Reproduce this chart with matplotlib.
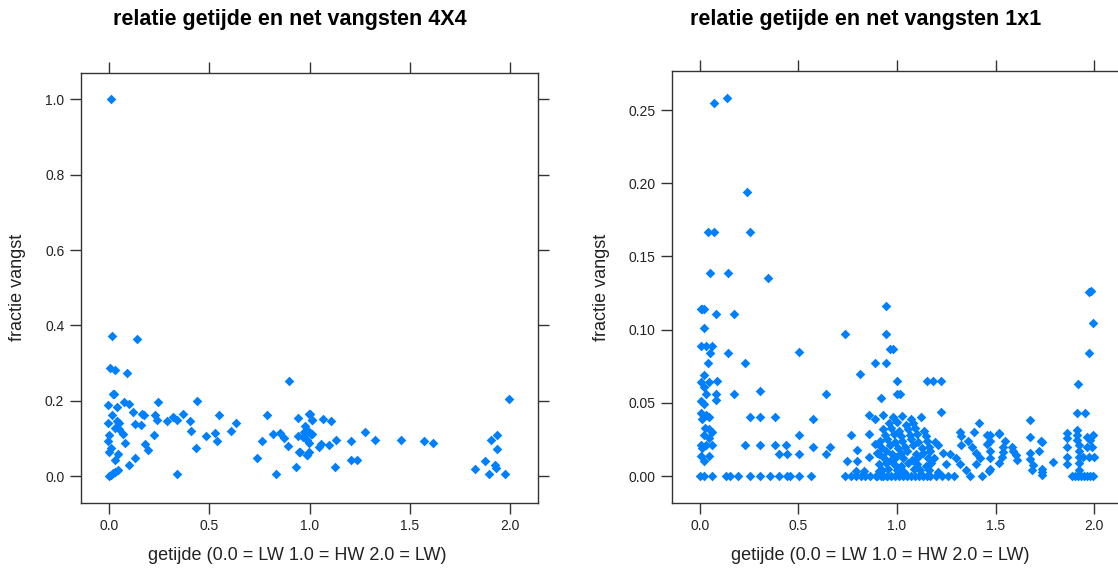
import matplotlib.pyplot as plt
from matplotlib.ticker import FormatStrFormatter

plt.rcParams['font.family'] = ['Liberation Sans', 'DejaVu Sans']

# getijde (x) en fractie vangst (y) per net, 4X4
x_4x4 = [0.01, 0.013, 0.141, 0.005, 0.028, 0.088, 0.896, 0.018, 0.026, -0.005, 0.038,
         0.075, 0.101, 0.118, 0.244, 0.437, 0.015, 0.165, 0.175, 0.231, 0.038, 0.048,
         -0.005, 0.131, 0.161, 0.238, 0.291, 0.318, 0.338, 0.368, 0.404, 0.55, 0.633,
         0.787, 0.943, 0.996, 1.012, 0.032, 0.051, 0.071, 0.002, 0.408, 0.224, 0.484,
         0.53, 0.61, 0.82, 0.853, 0.873, 0.943, 0.975, 0.99, 1.005, -0.005, 0.078,
         0.537, 0.763, 0.178, 0.893, 0.008, 0.195, 0.434, 0.946, 0.996, -0.002, 0.045,
         0.032, 0.131, 0.101, 0.74, 0.933, 0.986, 0.0, 0.01, 0.02, 0.03, 0.045, 0.338,
         0.833, 1.0, 1.012, 1.069, 1.106, 0.976, 0.986, 0.999, 1.012, 0.969, 0.986,
         0.999, 1.046, 1.056, 1.096, 1.132, 1.205, 1.275, 1.328, 1.455, 1.571, 1.618,
         0.953, 0.989, 1.205, 1.238, 1.129, 1.997, 1.904, 1.937, 1.937, 1.877, 1.827,
         1.927, 1.93, 1.897, 1.973]
y_4x4 = [1.0, 0.373, 0.364, 0.288, 0.281, 0.274, 0.253, 0.219, 0.219, 0.188, 0.184,
         0.196, 0.191, 0.171, 0.196, 0.2, 0.161, 0.166, 0.161, 0.161, 0.145, 0.141,
         0.141, 0.138, 0.136, 0.149, 0.145, 0.156, 0.15, 0.166, 0.147, 0.163, 0.141,
         0.163, 0.154, 0.166, 0.149, 0.129, 0.125, 0.113, 0.108, 0.12, 0.11, 0.106,
         0.115, 0.119, 0.111, 0.115, 0.101, 0.106, 0.118, 0.122, 0.112, 0.092, 0.088,
         0.094, 0.092, 0.085, 0.081, 0.074, 0.069, 0.074, 0.064, 0.064, 0.065, 0.058,
         0.042, 0.048, 0.03, 0.048, 0.023, 0.055, 0.0, 0.004, 0.008, 0.012, 0.017,
         0.005, 0.005, 0.166, 0.149, 0.152, 0.147, 0.134, 0.117, 0.117, 0.113, 0.104,
         0.095, 0.087, 0.078, 0.085, 0.083, 0.097, 0.094, 0.117, 0.097, 0.097, 0.092,
         0.088, 0.064, 0.055, 0.044, 0.044, 0.023, 0.205, 0.097, 0.11, 0.072, 0.039,
         0.018, 0.03, 0.021, 0.005, 0.005]

# getijde (x) en fractie vangst (y) per net, 1x1
x_1x1 = [
    # hoge vangsten
    0.073, 0.137, 0.239, 0.042, 0.073, 0.255, 0.049, 0.144, 0.344,
    # rond laagwater
    0.005, 0.012, 0.019, 0.08, 0.171, 0.019, 0.005, 0.032, 0.059, 0.049, 0.144,
    0.042, 0.228, 0.019, 0.005, 0.046, 0.086, 0.019, 0.032, 0.08, 0.171, 0.306,
    0.08, 0.005, 0.019, 0.005, 0.019, 0.032, 0.046, 0.012, 0.255, 0.306, 0.381,
    0.025, 0.046, 0.059, 0.019, 0.046, 0.005, 0.032, 0.059, 0.012, 0.228, 0.306,
    0.381, 0.438, 0.005, 0.046, 0.401, 0.442, 0.019,
    0.0, 0.019, 0.059, 0.134, 0.151, 0.194, 0.255, 0.306, 0.354, 0.401, 0.442,
    # opkomend water
    0.944, 0.738, 0.944, 0.964, 0.978, 0.504, 0.887, 0.944, 0.812, 0.64, 0.92,
    0.859, 0.887, 0.927, 0.575, 0.504, 0.765, 0.859, 0.575, 0.66, 0.89, 0.795,
    0.504, 0.64, 0.859, 0.91, 0.748, 0.795,
    0.457, 0.504, 0.565, 0.734, 0.765, 0.792, 0.816, 0.836, 0.863, 0.893, 0.92, 0.948,
    0.79, 0.83, 0.91,
    # rond hoogwater
    1.0, 1.151, 1.181, 1.222, 1.0, 1.015, 1.222,
    0.9, 0.93, 0.95, 0.97, 0.99, 1.01, 1.03, 1.05, 1.07, 1.09, 1.11, 1.13, 1.15,
    1.17, 1.2, 1.23, 1.26, 1.29,
    0.925, 0.955, 1.0, 1.035, 1.085, 1.115, 1.16, 1.21,
    0.91, 0.945, 0.985, 1.02, 1.055, 1.1, 1.145, 1.175, 1.25,
    0.935, 0.97, 0.995, 1.03, 1.075, 1.105, 1.155, 1.19,
    0.9, 0.945, 0.975, 1.02, 1.05, 1.095, 1.13, 1.17, 1.235, 1.27,
    0.92, 0.965, 1.005, 1.04, 1.08, 1.125, 1.16, 1.21,
    0.915, 0.95, 0.99, 1.025, 1.07, 1.105, 1.15, 1.195,
    0.94, 0.985, 1.02, 1.065, 1.1, 1.145,
    0.93, 0.97, 1.01, 1.055, 1.09, 1.135,
    0.96, 1.0, 1.045, 1.08,
    0.98, 1.025, 1.07, 1.12,
    # afgaand water
    1.32, 1.326, 1.326, 1.391, 1.415, 1.455, 1.455,
    1.3, 1.32, 1.35, 1.37, 1.4, 1.42, 1.4, 1.43, 1.38, 1.36,
    1.472, 1.472, 1.472, 1.472, 1.472, 1.465, 1.516,
    1.519, 1.547, 1.54, 1.54, 1.533, 1.519, 1.584, 1.59, 1.604, 1.608,
    1.675, 1.675, 1.675, 1.675, 1.689, 1.685, 1.729, 1.722, 1.736, 1.736,
    1.736, 1.736, 1.79,
    # rond laagwater (2.0)
    1.865, 1.865, 1.865, 1.865, 1.865, 1.915, 1.915, 1.915, 1.922, 1.922, 1.922,
    1.922, 1.922, 1.966, 1.997, 1.98, 1.966, 1.99, 1.946, 1.972, 2.0,
    1.915, 1.956, 1.919, 1.976, 1.997, 1.973, 1.983,
    1.89, 1.905, 1.92, 1.935, 1.95, 1.965, 1.98, 1.995,
]
y_1x1 = [
    0.255, 0.258, 0.194, 0.167, 0.167, 0.167, 0.139, 0.139, 0.135,
    0.114, 0.114, 0.114, 0.111, 0.111, 0.101, 0.089, 0.089, 0.089, 0.084, 0.084,
    0.077, 0.077, 0.069, 0.064, 0.064, 0.065, 0.061, 0.056, 0.056, 0.056, 0.058,
    0.052, 0.051, 0.049, 0.043, 0.041, 0.042, 0.04, 0.039, 0.04, 0.04, 0.04,
    0.033, 0.032, 0.03, 0.028, 0.026, 0.021, 0.021, 0.021, 0.019, 0.021, 0.021,
    0.021, 0.021, 0.014, 0.014, 0.015, 0.015, 0.01,
    0.0, 0.0, 0.0, 0.0, 0.0, 0.0, 0.0, 0.0, 0.0, 0.0, 0.0,
    0.116, 0.097, 0.097, 0.087, 0.087, 0.085, 0.077, 0.077, 0.07, 0.056, 0.053,
    0.042, 0.039, 0.042, 0.039, 0.028, 0.028, 0.029, 0.02, 0.02, 0.022, 0.018,
    0.015, 0.015, 0.013, 0.015, 0.01, 0.01,
    0.0, 0.0, 0.0, 0.0, 0.0, 0.0, 0.0, 0.0, 0.0, 0.0, 0.0, 0.0,
    0.0035, 0.0035, 0.0035,
    0.065, 0.065, 0.065, 0.065, 0.056, 0.056, 0.044,
    0.0, 0.0, 0.0, 0.0, 0.0, 0.0, 0.0, 0.0, 0.0, 0.0, 0.0, 0.0, 0.0,
    0.0, 0.0, 0.0, 0.0, 0.0,
    0.004, 0.005, 0.004, 0.003, 0.005, 0.004, 0.004, 0.003,
    0.008, 0.009, 0.008, 0.007, 0.009, 0.008, 0.007, 0.009, 0.008,
    0.012, 0.011, 0.013, 0.012, 0.011, 0.013, 0.012, 0.012,
    0.016, 0.017, 0.015, 0.016, 0.017, 0.015, 0.016, 0.017, 0.016, 0.015,
    0.02, 0.021, 0.019, 0.02, 0.021, 0.019, 0.02, 0.021,
    0.024, 0.025, 0.023, 0.024, 0.025, 0.023, 0.024, 0.023,
    0.028, 0.029, 0.027, 0.028, 0.029, 0.027,
    0.032, 0.033, 0.031, 0.032, 0.033, 0.031,
    0.036, 0.037, 0.035, 0.036,
    0.04, 0.041, 0.039, 0.04,
    0.03, 0.027, 0.021, 0.03, 0.036, 0.028, 0.022,
    0.012, 0.008, 0.004, 0.0, 0.016, 0.012, 0.008, 0.0, 0.02, 0.024,
    0.028, 0.024, 0.017, 0.012, 0.005, 0.0036, 0.0287,
    0.0292, 0.0237, 0.02, 0.0164, 0.0128, 0.0091, 0.02, 0.0169, 0.0141, 0.011,
    0.038, 0.0269, 0.016, 0.0118, 0.0073, 0.0041, 0.0237, 0.0169, 0.005, 0.0027,
    0.023, 0.001, 0.0096,
    0.0296, 0.026, 0.02, 0.0128, 0.0082, 0.0314, 0.0278, 0.0246, 0.021, 0.0169,
    0.0128, 0.0087, 0.0041, 0.0269, 0.0278, 0.0246, 0.02, 0.02, 0.013, 0.013, 0.013,
    0.043, 0.043, 0.063, 0.0838, 0.1043, 0.1257, 0.1266,
    0.0, 0.0, 0.0, 0.0, 0.0, 0.0, 0.0, 0.0,
]

x_ticks = [0.0, 0.5, 1.0, 1.5, 2.0]
y_ticks_4x4 = [0.0, 0.2, 0.4, 0.6, 0.8, 1.0]
y_ticks_1x1 = [0.0, 0.05, 0.10, 0.15, 0.20, 0.25]

blue = '#0080ff'
W, H = 1118, 572

fig = plt.figure(figsize=(W / 100, H / 100), dpi=100)

# panel boxes in pixel coordinates: left, top, right, bottom
boxes = [(81, 73, 538, 502.5), (672.4, 71, 1121.6, 502.5)]
panels = [
    (x_4x4, y_4x4, y_ticks_4x4, '%.1f', 'relatie getijde en net vangsten 4X4', (-0.07, 1.07)),
    (x_1x1, y_1x1, y_ticks_1x1, '%.2f', 'relatie getijde en net vangsten 1x1', (-0.0181, 0.2767)),
]
title_x = [290, 866]
xlabel_x = [297, 880]
ylabel_x = [18, 601]

for i, ((l, t, r, b), (xs, ys, yt, fmt, title, ylim)) in enumerate(zip(boxes, panels)):
    ax = fig.add_axes([l / W, 1 - b / H, (r - l) / W, (b - t) / H])
    ax.scatter(xs, ys, marker='D', s=24, color=blue, linewidths=0, clip_on=False)
    ax.set_xlim(-0.14, 2.14)
    ax.set_ylim(*ylim)
    ax.set_xticks(x_ticks)
    ax.set_yticks(yt)
    ax.xaxis.set_major_formatter(FormatStrFormatter('%.1f'))
    ax.yaxis.set_major_formatter(FormatStrFormatter(fmt))
    ax.tick_params(direction='out', length=8, width=1, color='#333333',
                   top=True, right=True, labeltop=False, labelright=False,
                   labelsize=10, pad=4, labelcolor='#222222')
    for s in ax.spines.values():
        s.set_color('#333333')
        s.set_linewidth(1)
    fig.text(xlabel_x[i] / W, 1 - 556 / H, 'getijde (0.0 = LW 1.0 = HW 2.0 = LW)',
             fontsize=13, ha='center', va='center', color='#222222')
    fig.text(ylabel_x[i] / W, 1 - 287 / H, 'fractie vangst', rotation=90, fontsize=13,
             ha='center', va='center', color='#222222')
    fig.text(title_x[i] / W, 1 - 20 / H, title, fontsize=15.5, fontweight='bold',
             ha='center', va='center')

fig.savefig('out.png', dpi=100)
